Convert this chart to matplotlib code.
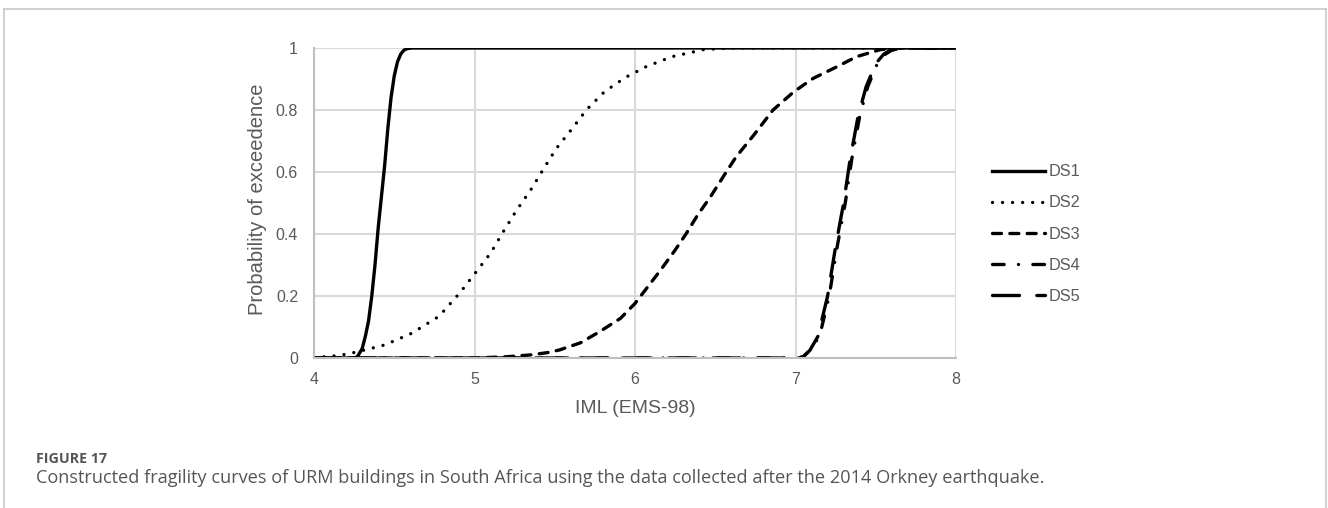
import matplotlib
matplotlib.use("Agg")
import matplotlib.pyplot as plt
from matplotlib.lines import Line2D

# values
ds1_x = [4.0, 4.25, 4.27, 4.30, 4.32, 4.34, 4.36, 4.38, 4.40, 4.42, 4.44, 4.46, 4.48, 4.50, 4.52, 4.54, 4.56, 4.58, 4.61, 8.0]
ds1_y = [0.0, 0.0, 0.004, 0.03, 0.07, 0.12, 0.20, 0.30, 0.42, 0.52, 0.62, 0.74, 0.84, 0.91, 0.955, 0.98, 0.993, 0.998, 1.0, 1.0]

ds2_x = [4.0, 4.1, 4.2, 4.27, 4.44, 4.61, 4.78, 4.91, 5.0, 5.10, 5.18, 5.26, 5.35, 5.43, 5.51, 5.61, 5.70,
         5.81, 5.94, 6.07, 6.23, 6.43, 6.6, 8.0]
ds2_y = [0.002, 0.005, 0.012, 0.02, 0.042, 0.080, 0.135, 0.211, 0.271, 0.338, 0.408, 0.475, 0.542, 0.610, 0.676,
         0.741, 0.802, 0.859, 0.905, 0.940, 0.972, 0.995, 1.0, 1.0]

ds3_x = [4.0, 5.0, 5.2, 5.35, 5.45, 5.53, 5.66, 5.78, 5.91, 6.0, 6.08, 6.16, 6.25, 6.32, 6.39, 6.47, 6.55, 6.63,
         6.74, 6.86, 6.99, 7.11, 7.26, 7.38, 7.53, 7.65, 8.0]
ds3_y = [0.0, 0.0, 0.004, 0.01, 0.017, 0.026, 0.049, 0.085, 0.128, 0.176, 0.230, 0.284, 0.348, 0.402, 0.461, 0.520,
         0.585, 0.649, 0.719, 0.800, 0.859, 0.902, 0.940, 0.972, 0.995, 1.0, 1.0]

ds4_x = [4.0, 7.02, 7.05, 7.09, 7.15, 7.21, 7.26, 7.31, 7.35, 7.40, 7.45, 7.51, 7.56, 7.60, 7.66, 8.0]
ds4_y = [0.0, 0.0, 0.005, 0.025, 0.07, 0.20, 0.36, 0.50, 0.64, 0.78, 0.875, 0.95, 0.98, 0.993, 1.0, 1.0]

ds5_x = [4.0, 7.02, 7.05, 7.09, 7.14, 7.20, 7.25, 7.30, 7.34, 7.39, 7.44, 7.50, 7.55, 7.59, 7.65, 8.0]
ds5_y = [0.0, 0.0, 0.005, 0.025, 0.07, 0.20, 0.36, 0.50, 0.64, 0.78, 0.875, 0.95, 0.98, 0.993, 1.0, 1.0]

labels = ["DS1", "DS2", "DS3", "DS4", "DS5"]
x_ticks = [4, 5, 6, 7, 8]
y_ticks = [0, 0.2, 0.4, 0.6, 0.8, 1]
y_tick_labels = ["0", "0.2", "0.4", "0.6", "0.8", "1"]

plt.rcParams["font.family"] = ["Liberation Sans", "DejaVu Sans"]
grey = "#595959"

W, H = 1328, 508
fig = plt.figure(figsize=(W / 100, H / 100), dpi=100)
ax = fig.add_axes([314 / W, 1 - 358 / H, 642 / W, 310 / H])

lw = 2.4
styles = [
    dict(linestyle="-"),
    dict(linestyle=(0, (0.01, 3.0)), dash_capstyle="round"),
    dict(linestyle=(0, (2.7, 2.5)), dash_capstyle="round"),
    dict(linestyle=(0, (3.5, 4.3, 0.01, 4.3)), dash_capstyle="round"),
    dict(linestyle=(0, (8.1, 5.2)), dash_capstyle="round"),
]
series = [(ds1_x, ds1_y), (ds2_x, ds2_y), (ds3_x, ds3_y), (ds4_x, ds4_y), (ds5_x, ds5_y)]
for (xs, ys), st, lab in list(zip(series, styles, labels))[::-1]:
    ax.plot(xs, ys, color="black", lw=lw, label=lab, **st)

ax.set_xlim(4, 8)
ax.set_ylim(0, 1)
ax.set_xticks(x_ticks)
ax.set_yticks(y_ticks)
ax.set_yticklabels(y_tick_labels)
ax.grid(True, color="#d9d9d9", lw=1.5)
ax.set_axisbelow(True)
for s in ["top", "right"]:
    ax.spines[s].set_visible(False)
for s in ["left", "bottom"]:
    ax.spines[s].set_color("#bfbfbf")
    ax.spines[s].set_linewidth(1.5)
ax.tick_params(length=0, colors=grey, labelsize=11.5)
ax.tick_params(axis="x", pad=10)
ax.tick_params(axis="y", pad=11.5)
ax.set_xlabel("IML (EMS-98)", color=grey, fontsize=14)
ax.set_ylabel("Probability of exceedence", color=grey, fontsize=14.5)
ax.xaxis.set_label_coords(0.5, (358 - 400) / 310)
ax.yaxis.set_label_coords((267 - 314) / 642, (358 - 199) / 310)

handles = [Line2D([], [], color="black", lw=lw, **st) for st in styles]
fig.legend(handles, labels, loc="center left", bbox_to_anchor=(992 / W, 1 - 234 / H),
           frameon=False, fontsize=11.7, labelcolor=grey, handlelength=3.26,
           handletextpad=0.25, labelspacing=0.99, borderpad=0, borderaxespad=0)

# outer frame of the figure panel
frame = "#c8c8c8"
fig.add_artist(Line2D([4 / W, 1326 / W], [1 - 9 / H, 1 - 9 / H], color=frame, lw=1.2))
fig.add_artist(Line2D([4 / W, 4 / W], [0, 1 - 9 / H], color=frame, lw=1.2))
fig.add_artist(Line2D([1326 / W, 1326 / W], [0, 1 - 9 / H], color=frame, lw=1.2))

fig.text(36 / W, 1 - 459 / H, "FIGURE 17", family=["Open Sans", "DejaVu Sans"],
         fontsize=10.3, fontweight="bold", color="#555555", va="center")
fig.text(36 / W, 1 - 478 / H,
         "Constructed fragility curves of URM buildings in South Africa using the data collected after the 2014 Orkney earthquake.",
         family=["Open Sans", "DejaVu Sans"], fontsize=13.1, color="#555555", va="center")

fig.savefig("out.png", dpi=100)
